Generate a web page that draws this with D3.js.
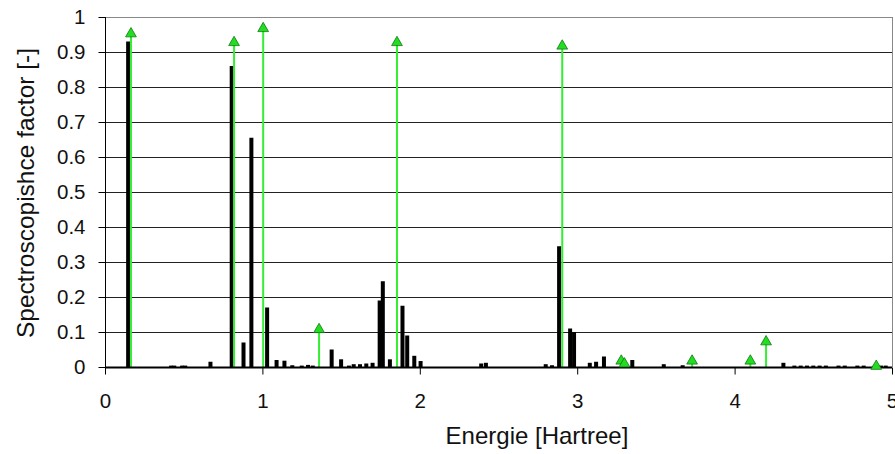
<!DOCTYPE html>
<html><head><meta charset="utf-8">
<script src="https://cdn.jsdelivr.net/npm/d3@7"></script>
<style>body{margin:0;background:#fff}svg{display:block}text{font-family:"Liberation Sans",Arial,sans-serif}</style>
</head><body><svg id="c" width="895" height="454"></svg>
<script>
const barEnergies = [0.147,0.42,0.44,0.49,0.51,0.67,0.805,0.88,0.93,1.03,1.09,1.14,1.19,1.25,1.29,1.32,1.44,1.50,1.55,1.58,1.62,1.66,1.70,1.745,1.765,1.81,1.89,1.92,1.965,2.005,2.39,2.42,2.80,2.84,2.885,2.955,2.98,3.08,3.12,3.17,3.35,3.55,3.67,4.31,4.38,4.42,4.46,4.50,4.54,4.58,4.66,4.70,4.78,4.82,4.89,4.93,4.96];
const barValues = [0.93,0.004,0.004,0.004,0.004,0.015,0.86,0.07,0.655,0.17,0.02,0.018,0.005,0.004,0.006,0.004,0.05,0.022,0.004,0.008,0.008,0.01,0.012,0.19,0.245,0.022,0.175,0.09,0.032,0.017,0.01,0.012,0.008,0.005,0.345,0.11,0.1,0.012,0.015,0.03,0.02,0.008,0.005,0.012,0.004,0.004,0.004,0.004,0.004,0.004,0.004,0.004,0.004,0.004,0.004,0.004,0.004];
const pointEnergies = [0.165,0.82,1.005,1.36,1.855,2.905,3.28,3.30,3.73,4.10,4.20,4.90];
const pointValues = [0.955,0.93,0.97,0.11,0.93,0.92,0.02,0.012,0.02,0.02,0.075,0.005];
const xTicks = [0,1,2,3,4,5];
const yTicks = [0,0.1,0.2,0.3,0.4,0.5,0.6,0.7,0.8,0.9,1];
const xTitle = "Energie [Hartree]";
const yTitle = "Spectroscopishce factor [-]";

const svg = d3.select("#c");
const L=105, R=892, T=17, B=367;
const x = d3.scaleLinear().domain([0,5]).range([L,R]);
const y = d3.scaleLinear().domain([0,1]).range([B,T]);

svg.append("g").selectAll("line").data(yTicks.filter(d=>d>0&&d<1)).join("line")
  .attr("x1",L).attr("x2",R).attr("y1",d=>Math.round(y(d))+0.5).attr("y2",d=>Math.round(y(d))+0.5)
  .attr("stroke","#222").attr("stroke-width",1);
svg.append("line").attr("x1",L).attr("x2",R).attr("y1",T+0.5).attr("y2",T+0.5).attr("stroke","#888");
svg.append("line").attr("x1",R+0.5).attr("x2",R+0.5).attr("y1",T).attr("y2",B).attr("stroke","#888");

svg.append("g").selectAll("rect").data(barEnergies.map((e,i)=>[e,barValues[i]])).join("rect")
  .attr("x",d=>x(d[0])-2).attr("width",4)
  .attr("y",d=>y(d[1])).attr("height",d=>B-y(d[1])).attr("fill","#000");

const pts = pointEnergies.map((e,i)=>[e,pointValues[i]]);
svg.append("g").selectAll("line").data(pts).join("line")
  .attr("x1",d=>x(d[0])).attr("x2",d=>x(d[0])).attr("y1",B).attr("y2",d=>y(d[1]))
  .attr("stroke","#33ee33").attr("stroke-width",2);

const yAxis = d3.axisLeft(y).tickValues(yTicks).tickSize(7).tickPadding(13).tickFormat(d=>d3.format("~g")(d));
const gy = svg.append("g").attr("transform",`translate(${L+0.5},0)`).call(yAxis);
gy.selectAll("text").attr("font-size",20.5).attr("fill","#111").attr("font-family","Liberation Sans, Arial, sans-serif");
gy.selectAll("line,path").attr("stroke","#000");
gy.select(".domain").attr("d",`M0,${T}V${B}`);

const xAxis = d3.axisBottom(x).tickValues(xTicks).tickSize(7).tickPadding(19).tickFormat(d3.format("d"));
const gx = svg.append("g").attr("transform",`translate(0,${B+0.5})`).call(xAxis);
gx.selectAll("text").attr("font-size",20.5).attr("fill","#111").attr("font-family","Liberation Sans, Arial, sans-serif");
gx.selectAll("line").attr("stroke","#000");
gx.select(".domain").attr("d",`M${L},0H${R}`).attr("stroke","#000").attr("stroke-width",2);

const tri = d3.symbol().type(d3.symbolTriangle).size(50);
svg.append("g").selectAll("path").data(pts).join("path")
  .attr("d",tri).attr("transform",d=>`translate(${x(d[0])},${y(d[1])+1})`)
  .attr("fill","#22dd22").attr("stroke","#117711").attr("stroke-width",0.8);

svg.append("text").attr("x",537).attr("y",444).attr("text-anchor","middle")
  .attr("font-size",24).attr("fill","#111").text(xTitle);
svg.append("text").attr("transform",`translate(34,193) rotate(-90)`).attr("text-anchor","middle")
  .attr("font-size",24.5).attr("fill","#111").text(yTitle);
</script></body></html>
